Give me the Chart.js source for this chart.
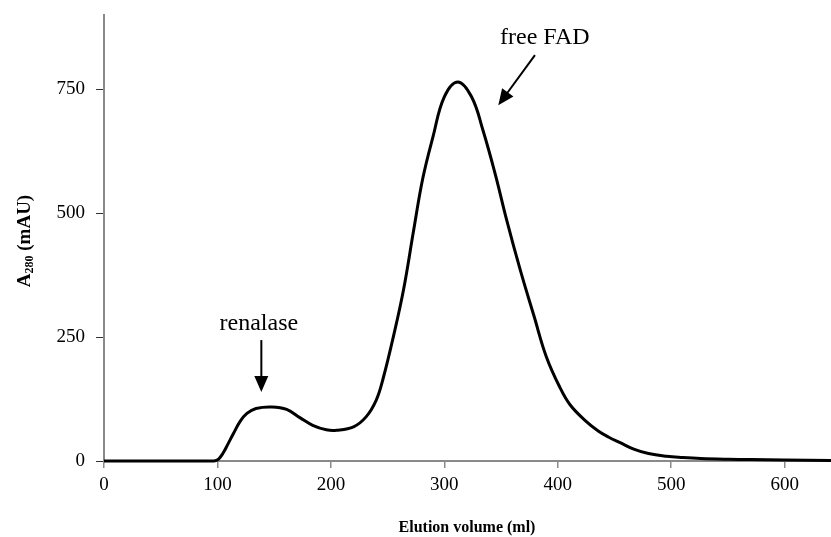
<!DOCTYPE html>
<html>
<head>
<meta charset="utf-8">
<script src="https://cdn.jsdelivr.net/npm/chart.js@4/dist/chart.umd.min.js"></script>
<style>
  body { margin: 0; background: #fff; }
  .grafic { width: 831px; height: 537px; }
</style>
</head>
<body>
<div class="grafic"><canvas id="myChart"></canvas></div>
<script>
// Elution volume (ml) and A280 (mAU)
const volumen = [0, 90, 97, 101, 105, 109, 114, 120, 126, 134, 148, 161, 173, 184, 196, 205, 220, 231, 240, 246, 255, 264, 273, 281, 290, 300, 312, 324, 334, 345, 355, 367, 379, 390, 402, 411, 425, 436, 445, 455, 467, 480, 496, 510, 526, 550, 570, 600, 641];
const absorbancia = [0, 0, 0, 4, 16, 33, 55, 80, 96, 106, 109, 104, 87, 72, 63, 62, 69, 89, 123, 166, 250, 345, 466, 570, 654, 735, 765, 735, 668, 578, 486, 385, 293, 210, 148, 113, 80, 60, 48, 37, 24, 15, 9.5, 7, 5, 3.5, 2.8, 2, 1];

const yTicks = [0, 250, 500, 750];
const xTicks = [0, 100, 200, 300, 400, 500, 600];

// etiquetas: texto, posicion del texto y flecha (en unidades de datos)
const etiquetas = [
    { texto: 'renalase', x: 136.5, y: 264, desde: [138.7, 244], hasta: [138.7, 139] },
    { texto: 'free FAD', x: 388.6, y: 841, desde: [379.9, 819], hasta: [347.6, 718] }
];

const serif = '"Liberation Serif", "Times New Roman", serif';
const gris = '#8a8a8a';

const puntos = volumen.map((v, i) => ({ x: v, y: absorbancia[i] }));

function flecha(ctx, x1, y1, x2, y2) {
    const ang = Math.atan2(y2 - y1, x2 - x1);
    const largo = 16, ancho = 7;
    const bx = x2 - largo * Math.cos(ang), by = y2 - largo * Math.sin(ang);
    ctx.beginPath();
    ctx.moveTo(x1, y1);
    ctx.lineTo(bx + 4 * Math.cos(ang), by + 4 * Math.sin(ang));
    ctx.lineWidth = 2;
    ctx.strokeStyle = '#000';
    ctx.stroke();
    ctx.beginPath();
    ctx.moveTo(x2, y2);
    ctx.lineTo(bx + ancho * Math.sin(ang), by - ancho * Math.cos(ang));
    ctx.lineTo(bx - ancho * Math.sin(ang), by + ancho * Math.cos(ang));
    ctx.closePath();
    ctx.fillStyle = '#000';
    ctx.fill();
}

const anotaciones = {
    id: 'anotaciones',
    afterDraw(chart) {
        const ctx = chart.ctx;
        const sx = chart.scales.x, sy = chart.scales.y;
        ctx.save();
        etiquetas.forEach(e => {
            ctx.font = '24px ' + serif;
            ctx.fillStyle = '#000';
            ctx.textAlign = 'center';
            ctx.textBaseline = 'alphabetic';
            ctx.fillText(e.texto, sx.getPixelForValue(e.x), sy.getPixelForValue(e.y));
            flecha(ctx,
                sx.getPixelForValue(e.desde[0]), sy.getPixelForValue(e.desde[1]),
                sx.getPixelForValue(e.hasta[0]), sy.getPixelForValue(e.hasta[1]));
        });
        // titulo del eje y con subindice
        ctx.translate(30, 241);
        ctx.rotate(-Math.PI / 2);
        ctx.textAlign = 'left';
        ctx.textBaseline = 'alphabetic';
        const big = 'bold 19px ' + serif, small = 'bold 12px ' + serif;
        ctx.font = big; const wA = ctx.measureText('A').width;
        ctx.font = small; const wS = ctx.measureText('280').width;
        ctx.font = big; const wR = ctx.measureText(' (mAU)').width;
        let x0 = -(wA + wS + wR) / 2;
        ctx.font = big; ctx.fillText('A', x0, 0);
        ctx.font = small; ctx.fillText('280', x0 + wA, 3);
        ctx.font = big; ctx.fillText(' (mAU)', x0 + wA + wS, 0);
        ctx.restore();
    }
};

const ctx = document.getElementById('myChart');
new Chart(ctx, {
    type: 'line',
    data: {
        datasets: [{
            data: puntos,
            borderColor: '#000',
            borderWidth: 3,
            pointRadius: 0,
            fill: false,
            tension: 0.4,
            clip: 4
        }]
    },
    options: {
        responsive: true,
        maintainAspectRatio: false,
        animation: false,
        layout: { padding: { top: 15, right: 1, left: 0, bottom: 0 } },
        plugins: { legend: { display: false }, tooltip: { enabled: false } },
        scales: {
            x: {
                type: 'linear',
                min: 0,
                max: 640,
                afterFit: s => { s.height = 76; s.paddingLeft = 0; s.paddingRight = 0; },
                afterBuildTicks: s => { s.ticks = xTicks.map(v => ({ value: v })); },
                ticks: { font: { family: serif, size: 19 }, color: '#000', padding: 6, maxRotation: 0 },
                grid: { drawOnChartArea: false, drawTicks: true, tickLength: 7, color: gris, lineWidth: 1.5 },
                border: { display: true, color: gris, width: 2 },
                title: {
                    display: true,
                    text: 'Elution volume (ml)',
                    font: { family: serif, size: 16, weight: 'bold' },
                    color: '#000',
                    padding: { top: 16, bottom: 0 }
                }
            },
            y: {
                min: 0,
                max: 900,
                afterFit: s => { s.width = 104; s.paddingTop = 0; s.paddingBottom = 0; },
                afterBuildTicks: s => { s.ticks = yTicks.map(v => ({ value: v })); },
                ticks: { font: { family: serif, size: 19 }, color: '#000', padding: 11 },
                grid: { drawOnChartArea: false, drawTicks: true, tickLength: 8, color: '#333', lineWidth: 1 },
                border: { display: true, color: gris, width: 2 }
            }
        }
    },
    plugins: [anotaciones]
});
</script>
</body>
</html>
